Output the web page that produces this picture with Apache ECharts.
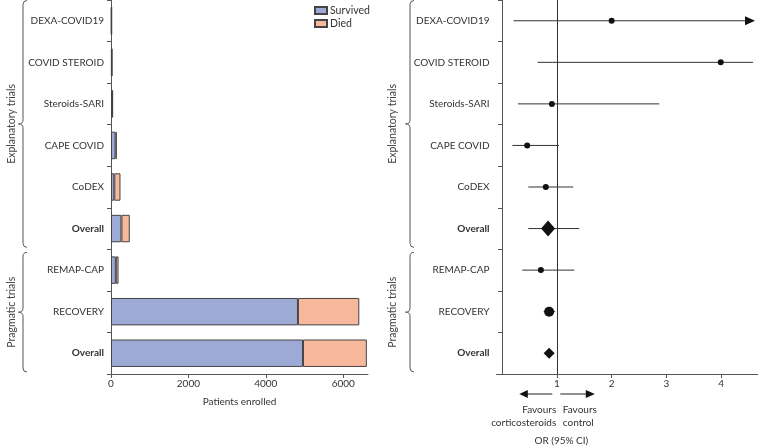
<!DOCTYPE html>
<html>
<head>
<meta charset="utf-8">
<script src="https://cdn.jsdelivr.net/npm/echarts@6/dist/echarts.min.js"></script>
<style>
html,body{margin:0;padding:0;background:#fff;}
#c{width:758px;height:447px;}
</style>
</head>
<body>
<div id="c"></div>
<script>
// ---------- data ----------
const categories = ['DEXA-COVID19', 'COVID STEROID', 'Steroids-SARI', 'CAPE COVID', 'CoDEX', 'Overall', 'REMAP-CAP', 'RECOVERY', 'Overall'];
const survived = [14, 22, 35, 118, 85, 270, 125, 4830, 4960];
const died = [5, 7, 12, 31, 160, 215, 70, 1585, 1650];
const oddsRatio = [2.0, 3.99, 0.91, 0.46, 0.80, 0.84, 0.71, 0.86, 0.86];
const ciLow = [0.21, 0.65, 0.29, 0.19, 0.48, 0.48, 0.37, 0.76, 0.78];
const ciHigh = [18.7, 4.58, 2.87, 1.04, 1.30, 1.41, 1.32, 0.97, 0.95];
const groupNames = ['Explanatory trials', 'Pragmatic trials'];
const groupFrom = [0, 6];
const groupTo = [5, 8];
const patientTicks = [0, 2000, 4000, 6000];
const orTicks = [1, 2, 3, 4];

// ---------- styles ----------
const FONT = 'Lato';
const TXT = '#333';
const AX = '#555';
const BLUE = '#9eaad6';
const SALMON = '#f8b89b';
const OR_MIN = -0.1, OR_MAX = 4.67;
const P_MAX = 6640;
function markerSize(i) {
  if (categories[i] === 'Overall') return i < 6 ? [14, 16] : [11, 11];
  if (categories[i] === 'RECOVERY') return 10;
  return 6;
}

const chart = echarts.init(document.getElementById('c'), null, {renderer: 'canvas'});

const catLabel = {
  color: TXT, fontFamily: FONT, fontSize: 10, margin: 7,
  formatter: v => v === 'Overall' ? '{b|' + v + '}' : v,
  rich: {b: {fontWeight: 'bold', fontFamily: FONT, fontSize: 10, color: TXT}}
};

const option = {
  animation: false,
  textStyle: {fontFamily: FONT},
  grid: [
    {left: 111, top: 0, width: 257, height: 374},
    {left: 496.5, top: 0, width: 261.5, height: 374}
  ],
  legend: {
    orient: 'vertical', left: 309, top: 0,
    itemWidth: 12, itemHeight: 7, itemGap: 2,
    icon: 'rect',
    data: ['Survived', 'Died'],
    textStyle: {fontFamily: FONT, fontSize: 10.5, color: TXT, padding: [0, 0, 0, -2]}
  },
  xAxis: [
    {
      gridIndex: 0, type: 'value', min: 0, max: P_MAX,
      splitLine: {show: false},
      axisLine: {show: true, lineStyle: {color: AX}},
      axisTick: {show: true, length: 4, lineStyle: {color: AX}, customValues: patientTicks},
      axisLabel: {color: TXT, fontFamily: FONT, fontSize: 10, margin: 5, customValues: patientTicks, formatter: v => String(v)},
      name: 'Patients enrolled', nameLocation: 'middle', nameGap: 23,
      nameTextStyle: {color: TXT, fontFamily: FONT, fontSize: 10}
    },
    {
      gridIndex: 1, type: 'value', min: OR_MIN, max: OR_MAX,
      splitLine: {show: false},
      axisLine: {show: true, lineStyle: {color: AX}},
      axisTick: {show: true, length: 4, lineStyle: {color: AX}, customValues: orTicks},
      axisLabel: {color: TXT, fontFamily: FONT, fontSize: 10, margin: 5, customValues: orTicks, formatter: v => String(v)}
    }
  ],
  yAxis: [
    {
      gridIndex: 0, type: 'category', data: categories, inverse: true,
      axisLine: {show: true, lineStyle: {color: AX}},
      axisTick: {show: true, length: 4, lineStyle: {color: AX}},
      axisLabel: catLabel
    },
    {
      gridIndex: 1, type: 'category', data: categories, inverse: true,
      axisLine: {show: true, lineStyle: {color: AX}},
      axisTick: {show: true, length: 4, lineStyle: {color: AX}},
      axisLabel: catLabel
    }
  ],
  series: [
    {
      name: 'Survived', type: 'bar', stack: 'p', xAxisIndex: 0, yAxisIndex: 0,
      data: survived, barWidth: '66%',
      itemStyle: {color: BLUE, borderColor: '#444', borderWidth: 1}
    },
    {
      name: 'Died', type: 'bar', stack: 'p', xAxisIndex: 0, yAxisIndex: 0,
      data: died, barWidth: '66%',
      itemStyle: {color: SALMON, borderColor: '#444', borderWidth: 1}
    },
    {
      name: 'CI', type: 'custom', xAxisIndex: 1, yAxisIndex: 1, clip: false, z: 3,
      data: ciLow.map((lo, i) => [lo, ciHigh[i], i]),
      encode: {x: [0, 1], y: 2},
      renderItem: function (params, api) {
        const idx = api.value(2);
        const hiV = api.value(1);
        const p1 = api.coord([api.value(0), idx]);
        const over = hiV > OR_MAX;
        const p2 = api.coord([over ? OR_MAX : hiV, idx]);
        const children = [];
        let xEnd = p2[0];
        if (over) { xEnd = p2[0] - 3; }
        children.push({
          type: 'line',
          shape: {x1: p1[0], y1: p1[1], x2: over ? xEnd - 8 : xEnd, y2: p1[1]},
          style: {stroke: '#333', lineWidth: 1}
        });
        if (over) {
          children.push({
            type: 'polygon',
            shape: {points: [[xEnd, p1[1]], [xEnd - 10, p1[1] - 4.5], [xEnd - 10, p1[1] + 4.5]]},
            style: {fill: '#111'}
          });
        }
        return {type: 'group', children: children};
      }
    },
    {
      name: 'OR', type: 'scatter', xAxisIndex: 1, yAxisIndex: 1, z: 5,
      data: oddsRatio.map((v, i) => ({
        value: [v, i],
        symbol: categories[i] === 'Overall' ? 'diamond' : 'circle',
        symbolSize: markerSize(i)
      })),
      itemStyle: {color: '#111', opacity: 1},
      markLine: {
        silent: true, symbol: 'none', label: {show: false},
        lineStyle: {color: '#333', width: 1, type: 'solid'},
        data: [{xAxis: 1}]
      }
    }
  ]
};
chart.setOption(option);

// ---------- annotations: braces, group labels, favours ----------
function braceElems(x, y1, y2, d) {
  const m = (y1 + y2) / 2;
  const st = {stroke: '#555', fill: null, lineWidth: 1};
  return [
    {type: 'bezierCurve', shape: {x1: x + 4, y1: y1, cpx1: x, cpy1: y1, x2: x, y2: y1 + 4}, style: st},
    {type: 'line', shape: {x1: x, y1: y1 + 4, x2: x, y2: m - 4}, style: st},
    {type: 'bezierCurve', shape: {x1: x, y1: m - 4, cpx1: x, cpy1: m, x2: x - d, y2: m}, style: st},
    {type: 'bezierCurve', shape: {x1: x - d, y1: m, cpx1: x, cpy1: m, x2: x, y2: m + 4}, style: st},
    {type: 'line', shape: {x1: x, y1: m + 4, x2: x, y2: y2 - 4}, style: st},
    {type: 'bezierCurve', shape: {x1: x, y1: y2 - 4, cpx1: x, cpy1: y2, x2: x + 4, y2: y2}, style: st}
  ];
}
const c0 = chart.convertToPixel({yAxisIndex: 0}, 0);
const c1 = chart.convertToPixel({yAxisIndex: 0}, 1);
const band = c1 - c0;
const graphics = [];
[[23, 12], [410, 393]].forEach(([bx, tx]) => {
  groupNames.forEach((g, k) => {
    let y1 = chart.convertToPixel({yAxisIndex: 0}, groupFrom[k]) - band / 2;
    let y2 = chart.convertToPixel({yAxisIndex: 0}, groupTo[k]) + band / 2;
    y1 = k === 0 ? Math.max(y1, 0.5) : y1 + 3;
    y2 = y2 - 2;
    braceElems(bx, y1, y2, 4.5).forEach(e => graphics.push(e));
    graphics.push({
      type: 'text', x: tx, y: (y1 + y2) / 2, rotation: Math.PI / 2,
      style: {text: g, fill: '#444', font: '10.5px ' + FONT, textAlign: 'center', textVerticalAlign: 'middle'}
    });
  });
});
const y0 = 394;
const one = chart.convertToPixel({xAxisIndex: 1}, 1);
graphics.push(
  {type: 'line', shape: {x1: one - 4.5, y1: y0, x2: one - 30, y2: y0}, style: {stroke: '#222', lineWidth: 1}},
  {type: 'polygon', shape: {points: [[one - 37.5, y0], [one - 29, y0 - 4], [one - 29, y0 + 4]]}, style: {fill: '#111'}},
  {type: 'line', shape: {x1: one + 3.5, y1: y0, x2: one + 30, y2: y0}, style: {stroke: '#222', lineWidth: 1}},
  {type: 'polygon', shape: {points: [[one + 38, y0], [one + 29, y0 - 4], [one + 29, y0 + 4]]}, style: {fill: '#111'}},
  {type: 'text', x: one - 0.5, y: 416.5, style: {text: 'Favours\ncorticosteroids', fill: TXT, font: '10px ' + FONT, textAlign: 'right', textVerticalAlign: 'middle', lineHeight: 13.5}},
  {type: 'text', x: one + 6, y: 416.5, style: {text: 'Favours\ncontrol', fill: TXT, font: '10px ' + FONT, textAlign: 'left', textVerticalAlign: 'middle', lineHeight: 13.5}},
  {type: 'text', x: one + 4.5, y: 440.5, style: {text: 'OR (95% CI)', fill: TXT, font: '10px ' + FONT, textAlign: 'center', textVerticalAlign: 'middle'}}
);
chart.setOption({graphic: graphics});
</script>
</body>
</html>
